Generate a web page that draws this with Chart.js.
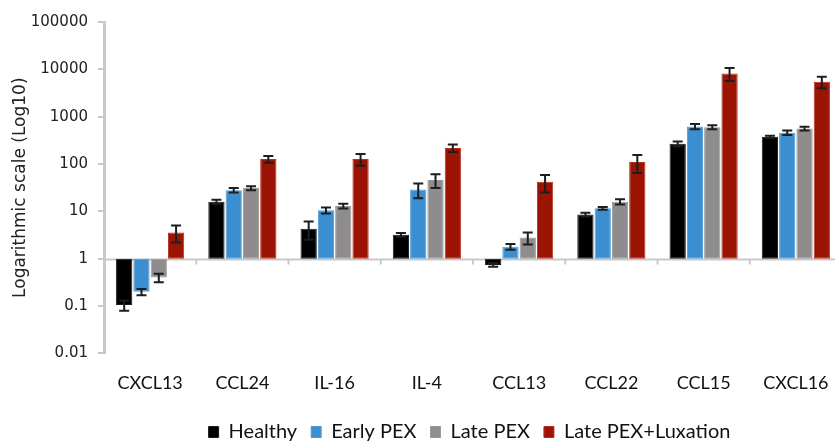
<!DOCTYPE html>
<html>
<head>
<meta charset="utf-8">
<script src="https://cdn.jsdelivr.net/npm/chart.js@4.4.1/dist/chart.umd.min.js"></script>
<style>
  html, body { margin: 0; padding: 0; background: #ffffff; }
  #wrap { width: 835px; height: 442px; position: relative; }
</style>
</head>
<body>
<div id="wrap"><canvas id="c"></canvas></div>
<script>
// Chemokine / cytokine levels per group, log10 scale, bars grow from 1
const categories = ['CXCL13', 'CCL24', 'IL-16', 'IL-4', 'CCL13', 'CCL22', 'CCL15', 'CXCL16'];
const seriesNames = ['Healthy', 'Early PEX', 'Late PEX', 'Late PEX+Luxation'];

const healthy       = [0.105, 16, 4.3, 3.2, 0.74, 8.6, 268, 375];
const healthyErr    = [0.025, 1.5, 1.8, 0.3, 0.06, 0.8, 30, 20];
const earlyPex      = [0.2, 28, 10.5, 29, 1.8, 11.6, 620, 460];
const earlyPexErr   = [0.03, 3, 1.5, 10, 0.25, 0.8, 80, 50];
const latePex       = [0.4, 31, 13, 46, 2.8, 16, 600, 560];
const latePexErr    = [0.08, 3, 1.5, 15, 0.8, 2, 60, 50];
const lateLux       = [3.6, 127, 127, 219, 42, 110, 8200, 5500];
const lateLuxErr    = [1.4, 20, 35, 40, 17, 45, 2500, 1500];

const yTicks = [0.01, 0.1, 1, 10, 100, 1000, 10000, 100000];
const baseline = 1;

const colors = ['#000000', '#3b8fd0', '#8e8c8c', '#9b1403'];
const borders = ['#1a1a1a', '#4f9bd6', '#9a9898', '#b3321f'];

const seriesValues = [healthy, earlyPex, latePex, lateLux];
const seriesErrors = [healthyErr, earlyPexErr, latePexErr, lateLuxErr];

const SANS = 'Lato, "Noto Sans", sans-serif';
const WIDE = '"DejaVu Sans", Verdana, sans-serif';

// whiskers with caps around each bar value
const errorBars = {
  id: 'errorBars',
  afterDatasetsDraw(chart) {
    const ctx = chart.ctx;
    const y = chart.scales.y;
    ctx.save();
    ctx.strokeStyle = '#1e1e1e';
    ctx.lineWidth = 2;
    chart.data.datasets.forEach((ds, di) => {
      const meta = chart.getDatasetMeta(di);
      meta.data.forEach((bar, i) => {
        const v = seriesValues[di][i];
        const e = seriesErrors[di][i];
        const yHi = y.getPixelForValue(v + e);
        const yLo = y.getPixelForValue(Math.max(v - e, 0.0001));
        const cap = 5;
        ctx.beginPath();
        ctx.moveTo(bar.x, yHi); ctx.lineTo(bar.x, yLo);
        ctx.moveTo(bar.x - cap, yHi); ctx.lineTo(bar.x + cap, yHi);
        ctx.moveTo(bar.x - cap, yLo); ctx.lineTo(bar.x + cap, yLo);
        ctx.stroke();
      });
    });
    ctx.restore();
  }
};

// horizontal axis line at value 1 with ticks between categories
const baselineAxis = {
  id: 'baselineAxis',
  beforeDatasetsDraw(chart) {
    const ctx = chart.ctx;
    const x = chart.scales.x;
    const y = chart.scales.y;
    const py = Math.round(y.getPixelForValue(baseline)) + 0.5;
    ctx.save();
    ctx.strokeStyle = '#c9c9c9';
    ctx.lineWidth = 2;
    ctx.beginPath();
    ctx.moveTo(chart.chartArea.left, py);
    ctx.lineTo(chart.chartArea.right, py);
    const step = (x.getPixelForValue(1) - x.getPixelForValue(0));
    for (let i = 0; i <= categories.length; i++) {
      const px = x.getPixelForValue(0) - step / 2 + i * step;
      ctx.moveTo(px, py);
      ctx.lineTo(px, py + 5);
    }
    ctx.stroke();
    ctx.restore();
  }
};

// legend row a little lower; plot area runs slightly past the right edge
const layoutTweaks = {
  id: 'layoutTweaks',
  afterLayout(chart) {
    const lg = chart.legend;
    lg.top -= 5;
    lg.bottom -= 5;
    const extra = 7;
    const x = chart.scales.x;
    x.right += extra;
    x.width += extra;
    x.configure();
    chart.chartArea.right += extra;
    chart.chartArea.width += extra;
  }
};

new Chart(document.getElementById('c'), {
  type: 'bar',
  data: {
    labels: categories,
    datasets: seriesNames.map((name, di) => ({
      label: name,
      data: seriesValues[di].map(v => [baseline, v]),
      backgroundColor: colors[di],
      borderColor: borders[di],
      borderWidth: 1,
      borderSkipped: false,
      categoryPercentage: 0.75,
      barPercentage: 0.94
    }))
  },
  options: {
    responsive: true,
    maintainAspectRatio: false,
    animation: false,
    layout: { padding: { top: 22, right: 0, left: 0, bottom: -15 } },
    plugins: {
      tooltip: { enabled: false },
      legend: {
        position: 'bottom',
        fullSize: false,
        labels: {
          font: { family: SANS, size: 20 },
          color: '#111111',
          boxWidth: 10,
          boxHeight: 11,
          padding: 14
        }
      }
    },
    scales: {
      x: {
        border: { display: false },
        grid: { display: false, drawTicks: false },
        afterFit(scale) { scale.paddingRight = 0; scale.paddingLeft = 0; },
        ticks: {
          font: { family: SANS, size: 18 },
          color: '#111111',
          padding: 19,
          maxRotation: 0
        }
      },
      y: {
        type: 'logarithmic',
        min: 0.01,
        max: 100000,
        afterBuildTicks(scale) {
          scale.ticks = yTicks.map(v => ({ value: v }));
        },
        afterFit(scale) { scale.width = 104; },
        border: { display: true, color: '#c8c8c8', width: 3 },
        grid: {
          drawOnChartArea: false,
          drawTicks: true,
          tickLength: 6,
          color: '#c8c8c8',
          lineWidth: 2
        },
        ticks: {
          font: { family: WIDE, size: 15 },
          color: '#222222',
          padding: 10,
          callback: v => String(v)
        },
        title: {
          display: true,
          text: 'Logarithmic scale (Log10)',
          font: { family: WIDE, size: 17 },
          color: '#222222',
          padding: { top: 10, bottom: 4 }
        }
      }
    }
  },
  plugins: [baselineAxis, errorBars, layoutTweaks]
});
</script>
</body>
</html>
